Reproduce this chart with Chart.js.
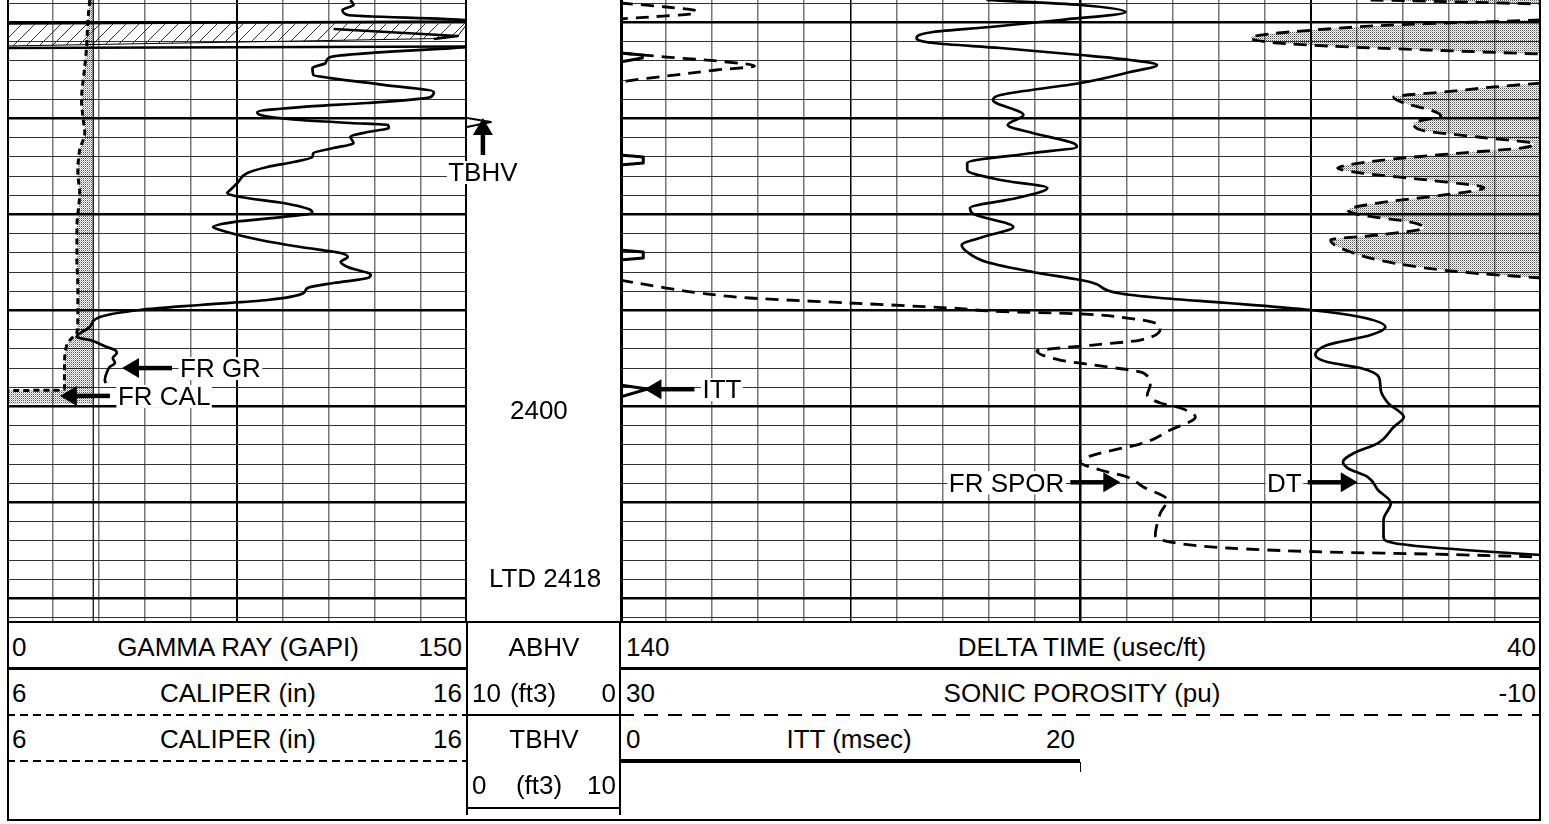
<!DOCTYPE html>
<html><head><meta charset="utf-8"><title>Well log</title>
<script src="https://cdn.jsdelivr.net/npm/chart.js@4.4.1/dist/chart.umd.min.js"></script>
<style>
html,body{margin:0;padding:0;background:#fff}
body{position:relative;width:1549px;height:824px;overflow:hidden;font-family:"Liberation Sans",Arial,sans-serif}
canvas{position:absolute;top:0}
.t{position:absolute;font-size:26px;line-height:26px;white-space:nowrap;color:#000}
.l{position:absolute;background:#000}
</style></head><body>
<canvas id="t1" width="460" height="622" style="left:7px"></canvas>
<canvas id="t2" width="921" height="622" style="left:620px"></canvas>
<canvas id="dp" width="193" height="622" style="left:427px"></canvas>
<script>
// ---------------- DATA ----------------
const DEPTH_TOP = 2357.66, DEPTH_BOTTOM = 2422.45;
const DEPTH_GRID = [2358,2360,2362,2364,2366,2368,2370,2372,2374,2376,2378,2380,2382,2384,2386,2388,2390,2392,2394,2396,2398,2400,2402,2404,2406,2408,2410,2412,2414,2416,2418,2420,2422];
const GR_GRID = [15,30,45,60,75,90,105,120,135];
const DT_GRID = [135,130,125,120,115,110,105,100,95,90,85,80,75,70,65,60,55,50,45];

const GR_DEPTH = [2357.66,2358.18,2358.70,2359.22,2359.74,2359.85,2361.00,2362.56,2363.60,2364.22,2364.74,2365.47,2365.79,2366.51,2367.24,2367.76,2368.39,2368.81,2369.33,2369.64,2370.16,2370.47,2370.68,2370.99,2371.41,2371.93,2372.56,2373.08,2373.60,2374.01,2374.54,2375.06,2375.68,2376.72,2377.45,2377.76,2378.18,2378.81,2379.54,2379.85,2380.26,2380.79,2381.31,2381.62,2382.66,2383.39,2384.01,2384.43,2384.95,2385.47,2386.31,2386.62,2387.14,2387.66,2388.18,2388.91,2389.43,2389.95,2390.68,2391.72,2392.76,2393.08,2393.81,2394.12,2394.43,2394.95,2395.47,2395.89,2396.41,2397.24,2397.56];
const GR_API = [112.0,113.0,109.4,111.1,149.0,150.0,null,150.0,105.5,103.9,99.6,99.9,105.5,122.8,139.2,138.2,117.6,95.7,81.6,82.6,95.7,112.0,124.2,124.5,117.6,112.0,113.0,106.5,99.9,99.6,93.4,84.9,78.4,75.1,72.8,71.8,76.1,90.1,99.0,99.6,90.1,73.8,67.2,69.5,82.6,95.7,108.8,111.1,108.8,111.1,118.6,117.6,106.5,98.0,96.7,84.9,63.0,43.3,30.3,27.0,22.7,27.0,32.6,35.2,35.8,34.5,35.2,33.5,32.6,31.9,32.2];

const HATCH_GR = [0,150,150,147,141.5,95.7,0];
const HATCH_DEPTH = [2360.11,2359.90,2360.16,2361.41,2361.67,2361.93,2362.45];
const BAND_GR = [0,150,null,0,150,null,106.5,147,139.2];
const BAND_DEPTH = [2360.11,2359.90,2361.0,2362.66,2362.50,2362.6,2360.68,2361.41,2361.72];

const CALI_DEPTH = [2357.66,2359.74,2362.56,2364.64,2368.08,2369.85,2371.51,2373.29,2375.68,2377.76,2381.31,2384.74,2387.56,2390.27,2392.35,2392.87,2393.60,2395.89,2398.08,2398.29,2398.35,2399.75];
const CALI_IN = [7.80,7.76,7.73,7.69,7.62,7.65,7.69,7.58,7.54,7.58,7.52,7.52,7.54,7.54,7.52,7.41,7.30,7.25,7.25,7.21,6.00,6.00];
const BIT_SIZE = 7.875;

const DT_DEPTH = [2357.66,2358.18,2358.91,2359.74,2360.47,2360.99,2361.62,2362.14,2362.66,2363.39,2363.91,2364.43,2365.16,2366.31,2367.56,2368.08,2369.64,2370.68,2371.51,2372.56,2372.97,2373.60,2374.64,2375.37,2376.41,2377.24,2378.29,2379.33,2379.85,2381.31,2382.35,2383.18,2383.91,2384.95,2385.99,2386.83,2387.14,2388.18,2388.70,2389.22,2389.95,2390.68,2391.72,2392.56,2393.60,2394.64,2395.37,2395.99,2396.93,2398.29,2399.64,2401.10,2402.14,2403.81,2404.85,2405.79,2406.41,2407.35,2408.70,2410.06,2411.83,2413.60,2414.22,2414.64,2415.16,2415.47];
const DT_USFT = [100.2,90.0,85.1,92.2,99.8,106.0,107.8,106.0,98.7,90.0,84.6,81.7,84.6,90.0,98.7,99.5,96.2,97.9,95.2,90.8,90.4,95.2,102.3,102.3,98.7,93.6,96.9,102.0,101.8,97.3,100.6,102.9,102.3,100.2,95.2,90.0,88.6,86.0,81.3,74.0,65.0,59.6,56.9,58.5,63.2,64.5,63.2,59.6,57.6,57.4,56.6,54.9,56.0,57.7,60.3,61.5,61.0,58.8,57.7,56.3,57.1,57.1,56.0,52.3,45.1,40.0];

const SPOR_DEPTH = [2357.66,2357.87,2358.08,2359.0,2359.74,2360.26,2360.68,2361.31,2361.62,2362.14,2362.45,2362.87,2363.29,2365.0,2366.31,2366.72,2367.24,2367.76,2368.39,2369.12,2369.74,2370.47,2371.20,2371.93,2372.66,2373.08,2373.60,2374.22,2374.85,2375.16,2375.68,2376.41,2377.24,2377.97,2378.81,2379.54,2380.06,2380.79,2381.41,2382.14,2382.66,2383.91,2385.06,2385.99,2386.62];
const SPOR_PU = [-2.60,-6.52,-10.0,null,-10.0,-3.60,-0.73,2.18,2.62,1.44,-0.73,-5.08,-10.0,null,-10.0,-7.96,-5.78,-3.60,-4.04,-5.21,-5.65,-4.47,-4.78,-7.26,-9.70,-9.13,-6.52,-3.60,-1.60,-1.17,-2.17,-5.08,-7.52,-5.78,-2.91,-1.60,-2.17,-4.34,-4.91,-2.91,-0.86,-1.73,-3.60,-6.52,-10.0];
// backup (wrapped) sonic porosity, plotted on -10 .. -50
const SPOR_BK_DEPTH = [2357.97,2358.39,2358.81,2359.12,2359.43,2359.64,2361.0,2363.18,2363.60,2364.01,2364.54,2364.95,2365.58,2366.10,2366.20,2376.0,2386.83,2387.66,2388.18,2388.70,2389.22,2389.74,2390.16,2390.27,2390.79,2391.72,2393.08,2393.60,2393.91,2394.22,2395.16,2395.68,2396.51,2397.76,2398.81,2399.64,2400.16,2401.10,2402.45,2403.81,2405.06,2405.79,2406.62,2407.35,2408.39,2409.74,2411.10,2412.14,2413.39,2414.12,2414.74,2415.16,2415.37,2415.68];
const SPOR_BK_PU = [-10.0,-12.01,-13.32,-13.02,-11.27,-10.0,null,-10.0,-12.01,-14.19,-15.84,-14.19,-12.01,-10.27,-10.0,null,-10.0,-12.01,-13.45,-15.63,-19.98,-24.33,-27.07,-29.11,-32.03,-33.47,-32.60,-30.55,-29.11,-28.11,-29.11,-30.55,-32.73,-33.03,-32.90,-33.47,-34.34,-34.99,-33.90,-32.73,-30.55,-29.98,-30.86,-32.03,-32.73,-33.77,-33.47,-33.34,-33.25,-33.90,-36.38,-40.73,-45.08,-50.0];

const ITT_DEPTH = [2363.18,2363.39,2363.70,2364.12,2368,2373.81,2374.01,2374.64,2374.85,2379,2383.70,2383.91,2384.54,2384.74,2390,2397.76,2398.18,2399.01];
const ITT_MS = [0,0.97,0.97,0,null,0,1.01,1.01,0,null,0,1.01,1.01,0,null,0,1.19,0];

const TBHV_DEPTH = [2369.95,2370.37,2370.89];
const TBHV_FT3 = [0,1.56,0];

const MARKS_T1 = [
  {text:'FR GR', axis:'gr', value:37.5, depth:2396.0, dir:'left'},
  {text:'FR CAL', axis:'cal', value:7.15, depth:2398.9, dir:'left'}
];
const MARKS_T2 = [
  {text:'ITT', axis:'itt', value:1.06, depth:2398.2, dir:'left'},
  {text:'FR SPOR', axis:'spor', value:8.27, depth:2407.9, dir:'right'},
  {text:'DT', axis:'dt', value:59.9, depth:2407.9, dir:'right'}
];
const MARKS_DP = [{text:'TBHV', axis:'tb', value:1.04, depth:2369.95, dir:'up'}];
const DEPTH_TEXT = [{text:'2400', depth:2400.35, value:4.7},{text:'LTD 2418', depth:2417.85, value:5.1}];

const HEAD_T1 = [['0','GAMMA RAY (GAPI)','150'],['6','CALIPER (in)','16'],['6','CALIPER (in)','16']];
const HEAD_DP = [['','ABHV',''],['10','(ft3)','0'],['','TBHV',''],['0','(ft3)','10']];
const HEAD_T2 = [['140','DELTA TIME (usec/ft)','40'],['30','SONIC POROSITY (pu)','-10'],['0','ITT (msec)','20']];

// ---------------- HELPERS ----------------
const FONT = '26px "Liberation Sans", Arial, sans-serif';
const pts = (ys, xs) => ys.map((d, i) => ({x: xs[i], y: d}));
function makeStipple(){const c=document.createElement('canvas');c.width=2;c.height=2;const g=c.getContext('2d');
  g.fillStyle='rgba(0,0,0,0.65)';g.fillRect(0,0,1,1);g.fillStyle='rgba(0,0,0,0.3)';g.fillRect(1,1,1,1);return g.createPattern(c,'repeat');}
function makeHatch(){const c=document.createElement('canvas');c.width=13;c.height=13;const g=c.getContext('2d');
  g.strokeStyle='#333';g.lineWidth=1;g.beginPath();g.moveTo(-1,14);g.lineTo(14,-1);g.moveTo(-1,1);g.lineTo(1,-1);g.moveTo(12,14);g.lineTo(14,12);g.stroke();return g.createPattern(c,'repeat');}
const STIPPLE = makeStipple(), HATCH = makeHatch();

function depthAxis(showGrid){
  return {axis:'y', type:'linear', min:DEPTH_TOP, max:DEPTH_BOTTOM, reverse:true, display:showGrid,
    afterBuildTicks: a => { a.ticks = DEPTH_GRID.map(v => ({value:v})); },
    ticks:{display:false}, border:{display:false},
    grid:{drawTicks:false,
      color: c => (c.tick && c.tick.value % 10 === 0) ? '#000' : '#333',
      lineWidth: c => (c.tick && c.tick.value % 10 === 0) ? 2.5 : 1}};
}
function xGrid(min, max, reverse, grid, bold){
  return {axis:'x', type:'linear', min, max, reverse, display:true,
    afterBuildTicks: a => { a.ticks = grid.map(v => ({value:v})); },
    ticks:{display:false}, border:{display:false},
    grid:{drawTicks:false,
      color: c => (c.tick && bold[c.tick.value]) ? '#000' : '#777',
      lineWidth: c => (c.tick && bold[c.tick.value]) ? bold[c.tick.value] : 1.5}};
}
const hidden = (min, max, reverse) => ({axis:'x', type:'linear', min, max, reverse:!!reverse, display:false});
const line = (o) => Object.assign({pointRadius:0, borderColor:'#000', borderWidth:2.5, fill:false,
  cubicInterpolationMode:'monotone', borderJoinStyle:'round', yAxisID:'depth'}, o);

function borderPlugin(lw, rw){
  return {id:'trackBorder', afterDatasetsDraw(chart){
    const {left,right,top,bottom} = chart.chartArea; const c = chart.ctx;
    c.save(); c.fillStyle='#000';
    if (lw) c.fillRect(left, top, lw, bottom-top);
    if (rw) c.fillRect(right-rw, top, rw, bottom-top);
    c.restore();}};
}
function arrowH(c, tx, ty, s, len){
  c.beginPath(); c.moveTo(tx, ty); c.lineTo(tx+s*17, ty-10); c.lineTo(tx+s*17, ty+10); c.closePath(); c.fill();
  const a = tx+s*15, b = tx+s*len; c.fillRect(Math.min(a,b), ty-2.25, Math.abs(b-a), 4.5);
}
function arrowUp(c, tx, ty, len){
  c.beginPath(); c.moveTo(tx, ty); c.lineTo(tx-10, ty+17); c.lineTo(tx+10, ty+17); c.closePath(); c.fill();
  c.fillRect(tx-2.25, ty+15, 4.5, len-15);
}
function label(c, text, cx, cy){
  const w = c.measureText(text).width;
  c.fillStyle='#fff'; c.fillRect(cx-w/2-1.5, cy-11, w+3, 23);
  c.fillStyle='#000'; c.textAlign='center'; c.textBaseline='alphabetic'; c.fillText(text, cx, cy+9.3);
}
function marksPlugin(items, texts){
  return {id:'marks', afterDatasetsDraw(chart){
    const c = chart.ctx, ys = chart.scales.depth;
    c.save(); c.font = FONT;
    items.forEach(it => {
      const tx = chart.scales[it.axis].getPixelForValue(it.value), ty = ys.getPixelForValue(it.depth);
      const w = c.measureText(it.text).width; c.fillStyle='#000';
      if (it.dir === 'left'){ arrowH(c, tx, ty, 1, 50); label(c, it.text, tx+58+w/2, ty); }
      else if (it.dir === 'right'){ arrowH(c, tx, ty, -1, 50); label(c, it.text, tx-56-w/2, ty); }
      else { arrowUp(c, tx, ty, 37); label(c, it.text, tx, ty+54); }
    });
    (texts||[]).forEach(t => {
      const x = chart.scales.tb.getPixelForValue(t.value), y = ys.getPixelForValue(t.depth);
      c.fillStyle='#000'; c.textAlign='center'; c.textBaseline='alphabetic'; c.fillText(t.text, x, y+9.3);
    });
    c.restore();}};
}
const baseOpts = (scales, padLeft) => ({responsive:false, animation:false, events:[],
  layout:{padding:{left:padLeft||0,right:0,top:0,bottom:0}, autoPadding:false},
  indexAxis:'y', plugins:{legend:{display:false}, tooltip:{enabled:false}}, scales});

// ---------------- TRACK 1 ----------------
new Chart(document.getElementById('t1'), {
  type:'line',
  data:{datasets:[
    line({label:'GR', data:pts(GR_DEPTH, GR_API), xAxisID:'gr', borderWidth:2.7, order:1}),
    line({label:'Band', data:pts(BAND_DEPTH, BAND_GR), xAxisID:'gr', tension:0, cubicInterpolationMode:'default', borderWidth:2.5, order:2}),
    line({label:'CALI', data:pts(CALI_DEPTH, CALI_IN), xAxisID:'cal', borderWidth:3, borderDash:[6,4], fill:{value:BIT_SIZE}, backgroundColor:STIPPLE, order:3}),
    line({label:'BS', data:[{x:BIT_SIZE,y:DEPTH_TOP},{x:BIT_SIZE,y:DEPTH_BOTTOM}], xAxisID:'cal', borderWidth:1.2, tension:0, cubicInterpolationMode:'default', order:4}),
    line({label:'Hatch', data:pts(HATCH_DEPTH, HATCH_GR), xAxisID:'gr', fill:'shape', backgroundColor:HATCH, borderWidth:1, tension:0, cubicInterpolationMode:'default', order:5})
  ]},
  options: baseOpts({gr:xGrid(0,150,false,GR_GRID,{75:2}), cal:hidden(6,16), depth:depthAxis(true)}),
  plugins:[borderPlugin(2,2), marksPlugin(MARKS_T1)]
});

// ---------------- TRACK 2 ----------------
new Chart(document.getElementById('t2'), {
  type:'line',
  data:{datasets:[
    line({label:'DT', data:pts(DT_DEPTH, DT_USFT), xAxisID:'dt', borderWidth:2.7, order:1}),
    line({label:'ITT', data:pts(ITT_DEPTH, ITT_MS), xAxisID:'itt', borderWidth:3, tension:0, cubicInterpolationMode:'default', order:2}),
    line({label:'SPOR', data:pts(SPOR_DEPTH, SPOR_PU), xAxisID:'spor', borderWidth:2.8, borderDash:[13,8], fill:{value:-10}, backgroundColor:STIPPLE, order:3}),
    line({label:'SPOR backup', data:pts(SPOR_BK_DEPTH, SPOR_BK_PU), xAxisID:'sporb', borderWidth:2.8, borderDash:[13,8], order:4})
  ]},
  options: baseOpts({dt:xGrid(40,140,true,DT_GRID,{115:1.5,90:2.5,65:2}), spor:hidden(-10,30,true), sporb:hidden(-50,-10,true), itt:hidden(0,40), depth:depthAxis(true)}),
  plugins:[borderPlugin(3,2), marksPlugin(MARKS_T2)]
});

// ---------------- DEPTH TRACK ----------------
new Chart(document.getElementById('dp'), {
  type:'line',
  data:{datasets:[
    line({label:'TBHV', data:pts(TBHV_DEPTH, TBHV_FT3), xAxisID:'tb', borderWidth:2, tension:0, cubicInterpolationMode:'default'})
  ]},
  options: baseOpts({tb:hidden(0,10), depth:Object.assign(depthAxis(false),{display:false})}, 40),
  plugins:[marksPlugin(MARKS_DP, DEPTH_TEXT)]
});

// ---------------- HEADER ----------------
function txt(s, x, y, align){
  if (!s) return;
  const d = document.createElement('div'); d.className='t'; d.textContent=s; d.style.top=(y-13)+'px';
  if (align==='l') d.style.left=x+'px';
  else if (align==='r') d.style.right=(1549-x)+'px';
  else { d.style.left=x+'px'; d.style.transform='translateX(-50%)'; }
  document.body.appendChild(d);
}
function ln(x1, x2, y, h, dash){
  const d = document.createElement('div'); d.className='l';
  d.style.left=x1+'px'; d.style.width=(x2-x1)+'px'; d.style.top=y+'px'; d.style.height=h+'px';
  if (dash) d.style.background='repeating-linear-gradient(to right,#000 0 '+dash[0]+'px,transparent '+dash[0]+'px '+(dash[0]+dash[1])+'px)';
  document.body.appendChild(d);
}
function vl(x, y1, y2, w){ const d=document.createElement('div'); d.className='l'; d.style.left=x+'px'; d.style.top=y1+'px'; d.style.width=w+'px'; d.style.height=(y2-y1)+'px'; document.body.appendChild(d); }
const ROW_Y = [647, 693, 739, 785];
HEAD_T1.forEach((r,i)=>{ txt(r[0],12,ROW_Y[i],'l'); txt(r[1],238,ROW_Y[i],'c'); txt(r[2],462,ROW_Y[i],'r'); });
HEAD_DP.forEach((r,i)=>{ txt(r[0],472,ROW_Y[i],'l'); txt(r[1], i===1?533:(i===3?539:544), ROW_Y[i],'c'); txt(r[2],616,ROW_Y[i],'r'); });
HEAD_T2.forEach((r,i)=>{ const last = i===2; txt(r[0],626,ROW_Y[i],'l'); txt(r[1], last?849:1082, ROW_Y[i],'c'); txt(r[2], last?1075:1536, ROW_Y[i],'r'); });
ln(7,1541,621,2);
ln(7,467,667,2.5); ln(620,1541,667,2.5);
ln(7,467,714,2,[8,5]); ln(620,1541,714,2,[14,10]); ln(467,620,714,2);
ln(7,467,760,2,[8,5]); ln(620,1080,759,3.5); vl(1080,762,772,1);
ln(467,620,807,2);
ln(7,1541,819,2);
vl(7,621,821,2); vl(1539,621,821,2); vl(466,621,815,1.5); vl(619,621,815,1.5);
</script></body></html>
